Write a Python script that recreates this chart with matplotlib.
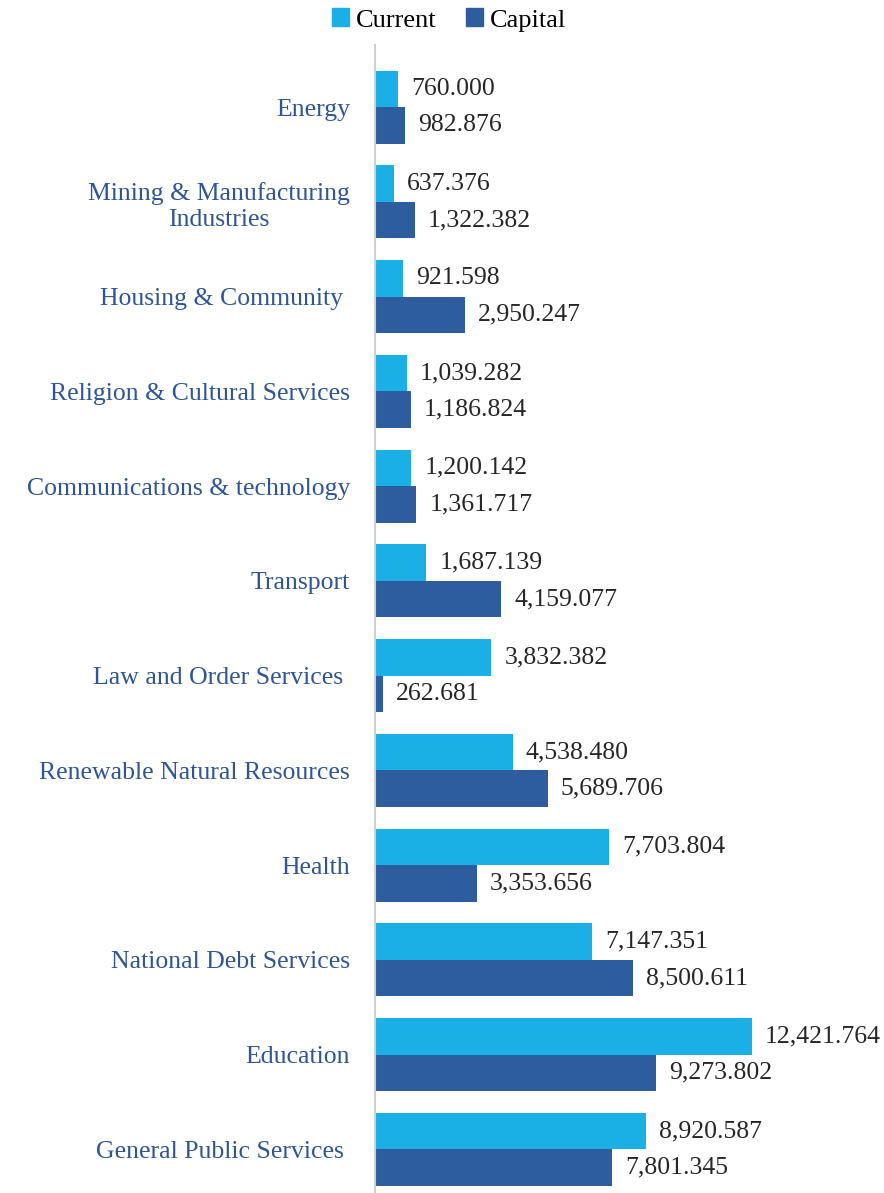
import matplotlib.pyplot as plt
from matplotlib.patches import Patch

categories = [
    "Energy",
    "Mining & Manufacturing\nIndustries",
    "Housing & Community ",
    "Religion & Cultural Services",
    "Communications & technology",
    "Transport",
    "Law and Order Services ",
    "Renewable Natural Resources",
    "Health",
    "National Debt Services",
    "Education",
    "General Public Services ",
]
current = [760.000, 637.376, 921.598, 1039.282, 1200.142, 1687.139,
           3832.382, 4538.480, 7703.804, 7147.351, 12421.764, 8920.587]
capital = [982.876, 1322.382, 2950.247, 1186.824, 1361.717, 4159.077,
           262.681, 5689.706, 3353.656, 8500.611, 9273.802, 7801.345]

CURRENT_COLOR = "#1bb0e5"
CAPITAL_COLOR = "#2d5d9f"
LABEL_COLOR = "#2f5597"
TEXT_COLOR = "#262626"

plt.rcParams["font.family"] = ["Liberation Serif", "DejaVu Serif"]

W, H = 884, 1193
fig = plt.figure(figsize=(W / 100, H / 100), dpi=100)
ax = fig.add_axes([375 / W, 0, 1 - 375 / W, 1 - 45 / H])

h = 0.385
ys = list(range(len(categories)))
ax.barh([y - h / 2 for y in ys], current, height=h, color=CURRENT_COLOR)
ax.barh([y + h / 2 for y in ys], capital, height=h, color=CAPITAL_COLOR)

for y, c, k in zip(ys, current, capital):
    ax.annotate(f"{c:,.3f}", (c, y - h / 2), xytext=(13, 0), textcoords="offset pixels",
                va="center", ha="left", fontsize=18.5, color=TEXT_COLOR)
    ax.annotate(f"{k:,.3f}", (k, y + h / 2), xytext=(13, 0), textcoords="offset pixels",
                va="center", ha="left", fontsize=18.5, color=TEXT_COLOR)

ax.set_xlim(0, 509 / (377 / 12421.764))
ax.set_ylim(11.46, -0.655)
ax.set_yticks(ys)
ax.set_yticklabels(categories, fontsize=18.5, color=LABEL_COLOR, linespacing=1.25)
for lbl in ax.get_yticklabels():
    lbl.set_multialignment("center")
ax.tick_params(axis="y", length=0, pad=18)
ax.set_xticks([])
for side in ["top", "right", "bottom"]:
    ax.spines[side].set_visible(False)
ax.spines["left"].set_color("#d0d0d0")
ax.spines["left"].set_linewidth(1.5)

handles = [Patch(color=CURRENT_COLOR, label="Current"),
           Patch(color=CAPITAL_COLOR, label="Capital")]
fig.legend(handles=handles, loc="center", bbox_to_anchor=(449 / W, 1 - 20 / H),
           ncol=2, frameon=False, fontsize=19, handlelength=0.65, handleheight=0.65,
           handletextpad=0.25, columnspacing=1.1)

fig.savefig("out.png", dpi=100)
